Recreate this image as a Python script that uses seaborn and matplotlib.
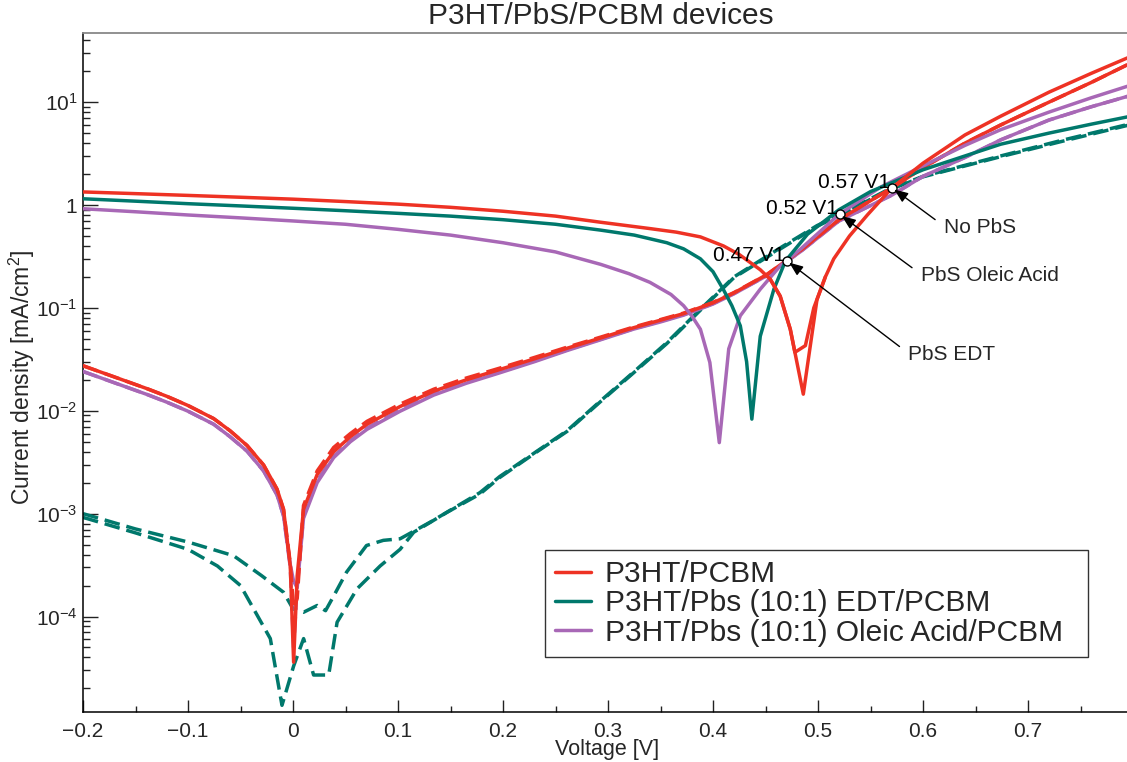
import numpy as np
import pandas as pd
import matplotlib
matplotlib.use("Agg")
import matplotlib.pyplot as plt
import seaborn as sns
from matplotlib.lines import Line2D
from matplotlib.ticker import FixedLocator, LogLocator, FuncFormatter, MultipleLocator, NullFormatter

# ---------------- data ----------------
title = "P3HT/PbS/PCBM devices"
x_label = "Voltage [V]"
y_label = "Current density [mA/cm$^2$]"
series_names = ["P3HT/PCBM", "P3HT/Pbs (10:1) EDT/PCBM", "P3HT/Pbs (10:1) Oleic Acid/PCBM"]
series_colors = ["#EE3224", "#00786C", "#A868B6"]

# P3HT/PCBM, illuminated (two sweeps near the dip)
red_light_v = [-0.2, -0.15, -0.1, -0.05, 0.0, 0.05, 0.1, 0.15, 0.2, 0.25, 0.293, 0.34, 0.365, 0.388,
               0.41, 0.425, 0.4355, 0.445, 0.4545, 0.464, 0.4736, 0.486, 0.499, 0.507, 0.515, 0.53,
               0.547, 0.5705, 0.60, 0.64, 0.674, 0.72, 0.76, 0.795]
red_light_j = [1.34, 1.29, 1.24, 1.19, 1.14, 1.08, 1.02, 0.95, 0.87, 0.78, 0.68, 0.59, 0.545, 0.49,
               0.40, 0.33, 0.276, 0.235, 0.19, 0.13, 0.062, 0.0145, 0.12, 0.2, 0.30, 0.50,
               0.80, 1.47, 2.55, 4.8, 7.3, 12.5, 19.0, 27.0]
red_light2_v = [0.4545, 0.464, 0.4736, 0.478, 0.488, 0.496, 0.507]
red_light2_j = [0.19, 0.13, 0.062, 0.037, 0.043, 0.10, 0.2]

# dark curves share one voltage grid
dark_v = [-0.2, -0.17, -0.139, -0.12, -0.1, -0.0756, -0.06, -0.0438, -0.028, -0.0152, -0.009, -0.0026,
          0.0006, 0.004, 0.010, 0.023, 0.0387, 0.0546, 0.0705, 0.102, 0.134, 0.165, 0.197, 0.23,
          0.261, 0.293, 0.324, 0.35, 0.372, 0.40, 0.42, 0.451, 0.483, 0.52, 0.5705, 0.60, 0.64,
          0.674, 0.72, 0.76, 0.795]
red_dark_j = [0.0274, 0.0213, 0.0164, 0.0138, 0.01125, 8.4e-3, 6.4e-3, 4.6e-3, 2.97e-3, 1.73e-3, 1.1e-3,
              3.1e-4, 3.6e-5, 2.5e-4, 1.1e-3, 2.4e-3, 4.0e-3, 5.6e-3, 7.4e-3, 0.0110, 0.0155, 0.0200,
              0.0252, 0.032, 0.0405, 0.051, 0.064, 0.076, 0.088, 0.112, 0.140, 0.21, 0.36, 0.72,
              1.47, 2.3, 4.0, 6.0, 10.0, 15.5, 23.2]
red_dark2_j = [0.0274, 0.0213, 0.0164, 0.0138, 0.01125, 8.4e-3, 6.4e-3, 4.6e-3, 2.97e-3, 1.73e-3, 1.1e-3,
               3.3e-4, 1.2e-4, 1.5e-4, 1.2e-3, 2.6e-3, 4.4e-3, 6.0e-3, 7.9e-3, 0.0116, 0.0162, 0.0208,
               0.0260, 0.033, 0.0415, 0.052, 0.065, 0.077, 0.089, 0.113, 0.141, 0.21, 0.36, 0.72,
               1.47, 2.3, 4.0, 6.0, 10.0, 15.5, 23.2]
purple_dark_j = [0.0241, 0.0187, 0.0144, 0.0121, 9.9e-3, 7.4e-3, 5.6e-3, 4.05e-3, 2.6e-3, 1.52e-3, 9.5e-4,
                 3.0e-4, 5.0e-5, 2.0e-4, 9.5e-4, 2.1e-3, 3.6e-3, 5.1e-3, 6.8e-3, 0.0102, 0.0146, 0.0189,
                 0.0238, 0.0305, 0.0390, 0.0495, 0.0625, 0.074, 0.086, 0.110, 0.138, 0.205, 0.35, 0.70,
                 1.25, 1.9, 2.9, 4.3, 6.7, 9.0, 11.4]
purple_dark2_j = [0.0241, 0.0187, 0.0144, 0.0121, 9.9e-3, 7.4e-3, 5.6e-3, 4.05e-3, 2.6e-3, 1.52e-3, 9.5e-4,
                  3.2e-4, 2.2e-4, 1.9e-4, 9.0e-4, 2.0e-3, 3.5e-3, 5.0e-3, 6.6e-3, 0.0099, 0.0142, 0.0185,
                  0.0234, 0.0300, 0.0385, 0.0490, 0.0620, 0.073, 0.085, 0.109, 0.137, 0.205, 0.35, 0.70,
                  1.25, 1.9, 2.9, 4.3, 6.7, 9.0, 11.4]

# P3HT/PbS EDT
green_light_v = [-0.2, -0.15, -0.1, -0.05, 0.0, 0.05, 0.1, 0.15, 0.2, 0.25, 0.293, 0.325, 0.356, 0.372,
                 0.388, 0.40, 0.41, 0.418, 0.426, 0.432, 0.437, 0.445, 0.458, 0.469, 0.49, 0.52, 0.55,
                 0.6, 0.64, 0.674, 0.72, 0.76, 0.795]
green_light_j = [1.15, 1.09, 1.03, 0.98, 0.93, 0.88, 0.83, 0.78, 0.72, 0.65, 0.57, 0.51, 0.43, 0.375,
                 0.30, 0.225, 0.15, 0.105, 0.067, 0.03, 0.0083, 0.053, 0.152, 0.286, 0.52, 0.90, 1.35,
                 2.2, 3.0, 3.9, 5.0, 6.1, 7.2]
green_dark_v = [-0.2, -0.15, -0.1, -0.0566, -0.03, -0.009, 0.0, 0.010, 0.023, 0.031, 0.039, 0.051, 0.070,
                0.086, 0.102, 0.131, 0.1625, 0.178, 0.197, 0.23, 0.261, 0.293, 0.324, 0.356, 0.388,
                0.42, 0.467, 0.499, 0.52, 0.566, 0.6, 0.674, 0.73, 0.795]
green_dark_j = [1.0e-3, 7.1e-4, 5.3e-4, 3.9e-4, 2.5e-4, 1.72e-4, 1.19e-4, 1.10e-4, 1.28e-4, 1.14e-4, 1.6e-4,
                2.7e-4, 4.9e-4, 5.5e-4, 5.7e-4, 8.3e-4, 1.29e-3, 1.6e-3, 2.3e-3, 3.9e-3, 6.4e-3, 0.0125,
                0.0236, 0.046, 0.097, 0.20, 0.40, 0.63, 0.80, 1.4, 1.9, 3.0, 4.2, 6.07]
green_dark2_v = [-0.2, -0.15, -0.1, -0.072, -0.05, -0.0216, -0.0105, 0.0006, 0.0101, 0.0196, 0.034, 0.042,
                 0.061, 0.083, 0.102, 0.115, 0.1467, 0.178, 0.197, 0.23, 0.261, 0.293, 0.324, 0.356,
                 0.388, 0.42, 0.467, 0.499, 0.52, 0.566, 0.6, 0.674, 0.73, 0.795]
green_dark2_j = [9.2e-4, 6.5e-4, 4.5e-4, 3.1e-4, 2.0e-4, 6.1e-5, 1.37e-5, 3.3e-5, 6.1e-5, 2.7e-5, 2.7e-5,
                 8.8e-5, 1.86e-4, 3.1e-4, 4.5e-4, 6.6e-4, 1.03e-3, 1.55e-3, 2.25e-3, 3.85e-3, 6.3e-3, 0.0123,
                 0.0232, 0.045, 0.095, 0.197, 0.39, 0.62, 0.79, 1.38, 1.88, 2.95, 4.1, 5.95]

# P3HT/PbS Oleic Acid, illuminated
purple_light_v = [-0.2, -0.15, -0.1, -0.05, 0.0, 0.05, 0.1, 0.15, 0.2, 0.25, 0.293, 0.32, 0.34, 0.36,
                  0.372, 0.38, 0.388, 0.397, 0.406, 0.415, 0.426, 0.445, 0.464, 0.483, 0.52, 0.56, 0.6,
                  0.64, 0.674, 0.72, 0.76, 0.795]
purple_light_j = [0.92, 0.86, 0.80, 0.75, 0.70, 0.65, 0.58, 0.51, 0.43, 0.35, 0.265, 0.215, 0.177, 0.135,
                  0.105, 0.083, 0.062, 0.0295, 0.0049, 0.040, 0.084, 0.152, 0.256, 0.37, 0.81, 1.5, 2.4,
                  3.8, 5.4, 8.0, 11.0, 14.3]

# crossing markers and labels
marker_v = [0.5705, 0.5206, 0.4705]
marker_j = [1.47, 0.81, 0.286]
marker_labels = ["0.57 V1", "0.52 V1", "0.47 V1"]
note_labels = ["No PbS", "PbS Oleic Acid", "PbS EDT"]
note_v = [0.620, 0.598, 0.586]
note_j = [0.61, 0.208, 0.0355]

y_major = [1e-4, 1e-3, 1e-2, 1e-1, 1, 10]
x_lim = [-0.2, 0.8]
y_lim = [1.18e-5, 47.0]

# ---------------- styling ----------------
sns.set_theme(style="white")
plt.rcParams["font.family"] = ["Liberation Sans", "DejaVu Sans"]
plt.rcParams["mathtext.fontset"] = "custom"
plt.rcParams["mathtext.rm"] = "Liberation Sans"
plt.rcParams["mathtext.it"] = "Liberation Sans:italic"
plt.rcParams["mathtext.default"] = "regular"
plt.rcParams["axes.unicode_minus"] = True

W, H = 1127, 762
fig = plt.figure(figsize=(W / 100, H / 100), dpi=100)
ax = fig.add_axes([83 / W, (H - 712) / H, (1133 - 83) / W, (712 - 33) / H])
ax.set_yscale("log")

LW = 2.5
DASH = (0, (4.5, 2))
red, green, purple = series_colors


def draw(v, j, color, ls, z):
    df = pd.DataFrame({"V": v, "J": j})
    sns.lineplot(data=df, x="V", y="J", color=color, linestyle=ls, linewidth=LW,
                 sort=False, estimator=None, ax=ax, zorder=z, legend=False)


draw(green_dark_v, green_dark_j, green, DASH, 2)
draw(green_dark2_v, green_dark2_j, green, DASH, 2)
draw(dark_v, purple_dark_j, purple, DASH, 3)
draw(dark_v, purple_dark2_j, purple, "-", 3)
draw(dark_v, red_dark2_j, red, DASH, 4)
draw(dark_v, red_dark_j, red, "-", 4)
draw(purple_light_v, purple_light_j, purple, "-", 5)
draw(green_light_v, green_light_j, green, "-", 5)
draw(red_light2_v, red_light2_j, red, "-", 6)
draw(red_light_v, red_light_j, red, "-", 6)

# markers and annotations
ax.plot(marker_v, marker_j, linestyle="none", marker="o", markersize=6.5,
        markerfacecolor="white", markeredgecolor="black", markeredgewidth=1.0, zorder=10)
for mv, mj, lab in zip(marker_v, marker_j, marker_labels):
    ax.text(mv - 0.002, mj, lab, ha="right", va="baseline", fontsize=15, color="black", zorder=11)
for mv, mj, lab, tv, tj in zip(marker_v, marker_j, note_labels, note_v, note_j):
    ax.annotate(lab, xy=(mv, mj), xytext=(tv, tj), ha="left", va="center", fontsize=15,
                arrowprops=dict(arrowstyle="-|>,head_length=0.55,head_width=0.22", color="black",
                                lw=1.0, shrinkA=5, shrinkB=2, relpos=(0, 0.55)), zorder=11)

ax.set_xlim(*x_lim)
ax.set_ylim(*y_lim)

ax.xaxis.set_major_locator(MultipleLocator(0.1))
ax.xaxis.set_minor_locator(MultipleLocator(0.05))


def xfmt(val, pos):
    if abs(val) < 1e-9:
        return "0"
    if val > 0.75:
        return ""
    return ("%.1f" % val).replace("-", "\u2212")


ax.xaxis.set_major_formatter(FuncFormatter(xfmt))
ax.yaxis.set_major_locator(FixedLocator(y_major))
ax.yaxis.set_minor_locator(LogLocator(base=10, subs=np.arange(2, 10), numticks=20))
ax.yaxis.set_minor_formatter(NullFormatter())


def yfmt(val, pos):
    e = int(round(np.log10(val)))
    if e == 0:
        return "1"
    return r"$10^{%d}$" % e


ax.yaxis.set_major_formatter(FuncFormatter(yfmt))

ax.tick_params(axis="y", which="major", direction="in", length=11, width=1.0, color="#222222",
               labelsize=15, pad=4, left=True, right=False)
ax.tick_params(axis="y", which="minor", direction="in", length=5, width=1.0, color="#222222",
               left=True, right=False)
ax.tick_params(axis="x", which="major", direction="in", length=8.5, width=1.0, color="#222222",
               labelsize=15, pad=7, bottom=True, top=False)
ax.tick_params(axis="x", which="minor", direction="in", length=4.3, width=1.0, color="#222222",
               bottom=True, top=False)

for s in ["left", "bottom"]:
    ax.spines[s].set_color("black")
    ax.spines[s].set_linewidth(1.1)
ax.spines["top"].set_color("#888888")
ax.spines["top"].set_linewidth(1.3)
ax.spines["right"].set_visible(False)

ax.set_xlabel(x_label, fontsize=15.5)
ax.set_ylabel(y_label, fontsize=16.5)
ax.xaxis.set_label_coords((607 - 83) / 1050, (712 - 749) / 679)
ax.xaxis.label.set_va("center")
ax.yaxis.set_label_coords((22 - 83) / 1050, (712 - 377) / 679)
ax.yaxis.label.set_va("center")

fig.text(601 / W, 1 - 16 / H, title, ha="center", va="center", fontsize=21.5)

handles = [Line2D([0], [0], color=c, lw=LW) for c in series_colors]
leg = ax.legend(handles, series_names, loc="lower left",
                bbox_to_anchor=((545 - 83) / 1050, (712 - 657) / 679, (1088 - 545) / 1050, 0.15),
                mode="expand", borderaxespad=0, fontsize=21.5, handlelength=1.2, handletextpad=0.45,
                labelspacing=0.04, borderpad=0.35, frameon=True, fancybox=False)
leg.get_frame().set_edgecolor("black")
leg.get_frame().set_linewidth(1.0)

fig.savefig("out.png", dpi=100)
